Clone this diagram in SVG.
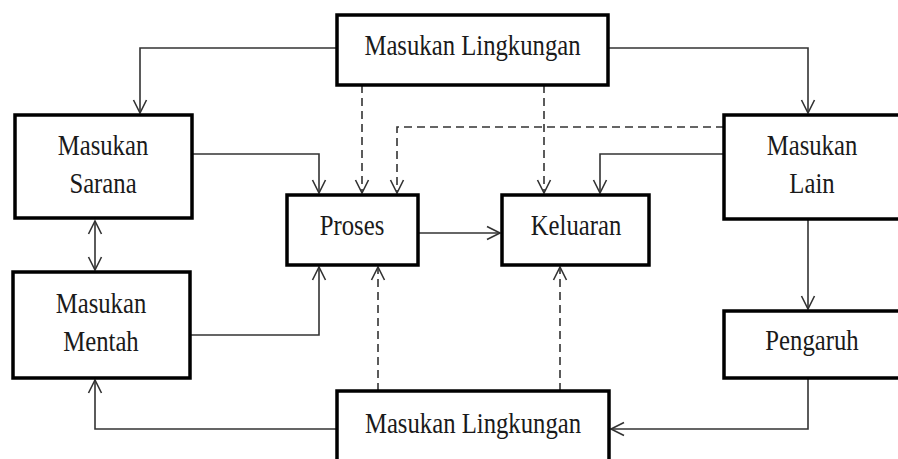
<svg xmlns="http://www.w3.org/2000/svg" width="898" height="459" viewBox="0 0 898 459">
<style>
.box{fill:#fff;stroke:#000;stroke-width:3.5}
.t{font-family:"Liberation Serif","Times New Roman",serif;font-size:30.5px;fill:#1a1a1a;text-anchor:middle}
.c{fill:none;stroke:#333;stroke-width:1.6}
.d{fill:none;stroke:#333;stroke-width:1.6;stroke-dasharray:8 5}
</style>
<defs>
<marker id="a" markerUnits="userSpaceOnUse" markerWidth="16" markerHeight="16" viewBox="-14 -8 16 16" refX="0" refY="0" orient="auto-start-reverse">
<path d="M-13,-6.5 L0,0 L-13,6.5" fill="none" stroke="#333" stroke-width="1.6"/>
</marker>
</defs>
<rect width="898" height="459" fill="#fff"/>
<g id="connectors">
<path class="c" d="M337,48 H140 V113" marker-end="url(#a)"/>
<path class="c" d="M608,48 H808 V113" marker-end="url(#a)"/>
<path class="d" d="M362,85 V193" marker-end="url(#a)"/>
<path class="d" d="M544,85 V193" marker-end="url(#a)"/>
<path class="d" d="M724,127 H397 V193" marker-end="url(#a)"/>
<path class="c" d="M724,154 H600 V193" marker-end="url(#a)"/>
<path class="c" d="M192,154 H319 V193" marker-end="url(#a)"/>
<path class="c" d="M95,221 V270" marker-start="url(#a)" marker-end="url(#a)"/>
<path class="c" d="M190,335 H319 V267" marker-end="url(#a)"/>
<path class="c" d="M418,233 H500" marker-end="url(#a)"/>
<path class="d" d="M378,391 V267" marker-end="url(#a)"/>
<path class="d" d="M560,391 V267" marker-end="url(#a)"/>
<path class="c" d="M808,219 V309" marker-end="url(#a)"/>
<path class="c" d="M808,378 V429 H611" marker-end="url(#a)"/>
<path class="c" d="M337,429 H95 V380" marker-end="url(#a)"/>
</g>
<g id="lingkungan-atas">
<rect class="box" x="337" y="15" width="271" height="70"/>
<text class="t" transform="translate(472.5,55) scale(0.81,1)">Masukan Lingkungan</text>
</g>
<g id="sarana">
<rect class="box" x="15" y="115" width="177" height="103"/>
<text class="t" transform="translate(103,155) scale(0.81,1)">Masukan</text>
<text class="t" transform="translate(103,193) scale(0.81,1)">Sarana</text>
</g>
<g id="mentah">
<rect class="box" x="13" y="272" width="177" height="106"/>
<text class="t" transform="translate(101,313) scale(0.81,1)">Masukan</text>
<text class="t" transform="translate(101,351) scale(0.81,1)">Mentah</text>
</g>
<g id="proses">
<rect class="box" x="287" y="195" width="131" height="70"/>
<text class="t" transform="translate(352,235) scale(0.81,1)">Proses</text>
</g>
<g id="keluaran">
<rect class="box" x="502" y="195" width="147" height="70"/>
<text class="t" transform="translate(576,235) scale(0.81,1)">Keluaran</text>
</g>
<g id="lain">
<rect class="box" x="724" y="115" width="178" height="104"/>
<text class="t" transform="translate(812,155) scale(0.81,1)">Masukan</text>
<text class="t" transform="translate(812,193) scale(0.81,1)">Lain</text>
</g>
<g id="pengaruh">
<rect class="box" x="724" y="311" width="178" height="67"/>
<text class="t" transform="translate(812,350) scale(0.81,1)">Pengaruh</text>
</g>
<g id="lingkungan-bawah">
<rect class="box" x="337" y="391" width="272" height="80"/>
<text class="t" transform="translate(473,433) scale(0.81,1)">Masukan Lingkungan</text>
</g>
</svg>
